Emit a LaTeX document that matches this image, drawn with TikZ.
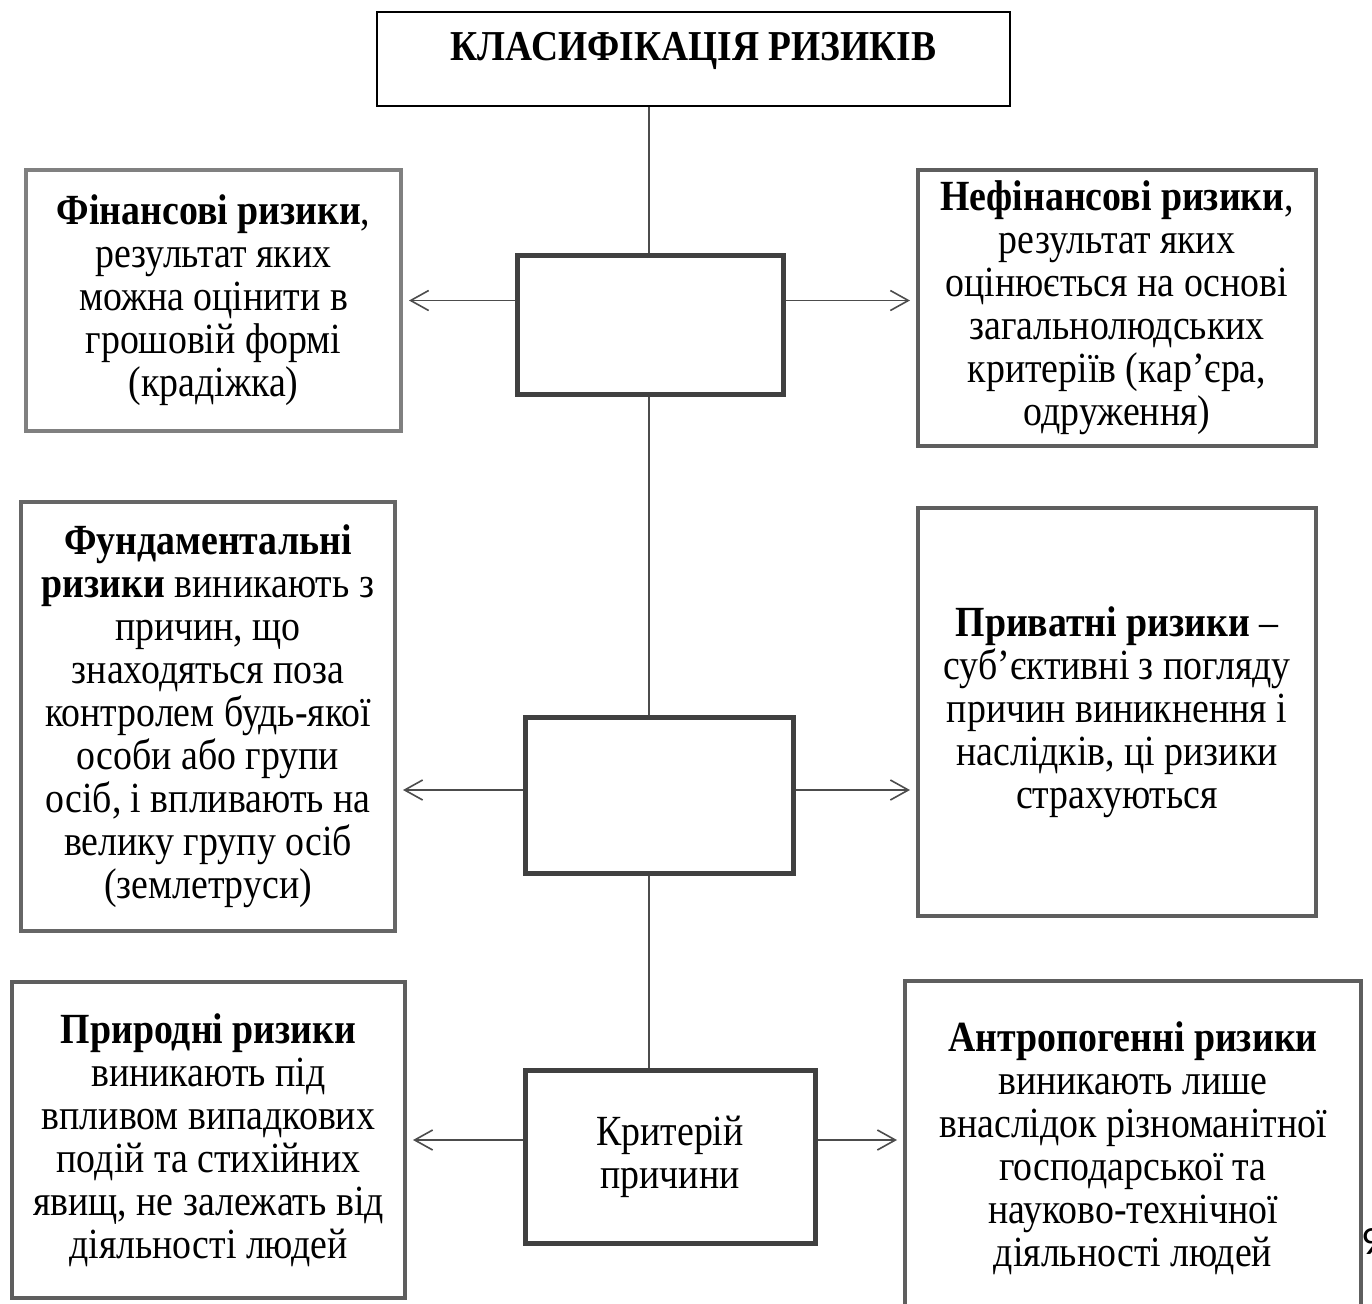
\documentclass[tikz,border=0pt]{standalone}
\usepackage{fontspec}
\setmainfont{Liberation Serif}[FakeStretch=0.88]
\newfontfamily\pagefont{Carlito}
\usepackage{tikz}
\usetikzlibrary{positioning}
\usetikzlibrary{arrows.meta}

\tikzset{
    riskbox/.style={draw=#1, line width=2pt, align=center, inner sep=0pt,
        font=\fontsize{21.5pt}{21.5pt}\selectfont},
    critbox/.style={riskbox=black!75, line width=2.5pt},
    conn/.style={draw=black!70, line width=0.8pt},
    arr/.style={conn, -{Straight Barb[length=9pt,width=10pt]}, shorten >=3pt},
}

\begin{document}
\begin{tikzpicture}[x=0.5pt, y=-0.5pt]
    \useasboundingbox (0,0) rectangle (1372,1303);
    \node[draw=black, line width=1pt, minimum width=316.5pt, minimum height=47pt,
        text height=14pt, text depth=13pt, font=\fontsize{21.3pt}{22pt}\selectfont\bfseries]
        (title) at (693.5,59) {КЛАСИФІКАЦІЯ РИЗИКІВ};
    \node[riskbox=black!50, minimum width=187.5pt, minimum height=130.5pt] (fin) at (213.5,300.5)
        {\textbf{Фінансові ризики},\\ результат яких\\ можна оцінити в\\ грошовій формі\\ (крадіжка)};
    \node[riskbox=black!63, minimum width=199pt, minimum height=138pt] (nefin) at (1117,308)
        {\textbf{Нефінансові ризики},\\ результат яких\\ оцінюється на основі\\ загальнолюдських\\ критеріїв (кар’єра,\\ одруження)};
    \node[critbox, minimum width=133pt, minimum height=69.5pt] (crit1) at (650,324.5) {};
    \node[riskbox=black!60, minimum width=187pt, minimum height=214.5pt] (fund) at (208,716.5)
        {\textbf{Фундаментальні}\\ \textbf{ризики} виникають з\\ причин, що\\ знаходяться поза\\ контролем будь-якої\\ особи або групи\\ осіб, і впливають на\\ велику групу осіб\\ (землетруси)};
    \node[riskbox=black!63, minimum width=199pt, minimum height=204pt] (priv) at (1117,712)
        {\textbf{Приватні ризики} –\\ суб’єктивні з погляду\\ причин виникнення і\\ наслідків, ці ризики\\ страхуються};
    \node[critbox, minimum width=134pt, minimum height=78pt] (crit2) at (659,795) {};
    \node[riskbox=black!63, minimum width=196.5pt, minimum height=158pt] (prirod) at (208.5,1140)
        {\textbf{Природні ризики}\\ виникають під\\ впливом випадкових\\ подій та стихійних\\ явищ, не залежать від\\ діяльності людей};
    \node[riskbox=black!63, minimum width=228pt, minimum height=167pt] (antrop) at (1133,1148)
        {\textbf{Антропогенні ризики}\\ виникають лише\\ внаслідок різноманітної\\ господарської та\\ науково-технічної\\ діяльності людей};
    \node[critbox, minimum width=145pt, minimum height=86.5pt] (crit3) at (670,1157) {Критерій\\ причини};
    \node[anchor=west, inner sep=0pt, font=\pagefont\fontsize{20pt}{22pt}\selectfont] (page) at (1361,1242) {9};

    \coordinate (axis) at (649,0);
    \draw[conn, line width=1pt] (title.south -| axis) -- (crit1.north -| axis);
    \draw[conn, line width=1pt] (crit1.south -| axis) -- (crit2.north -| axis);
    \draw[conn, line width=1pt] (crit2.south -| axis) -- (crit3.north -| axis);

    \draw[arr] (crit1.west |- fin.east) -- (fin.east);
    \draw[arr] (crit1.east |- fin.east) -- (fin.east -| nefin.west);
    \draw[arr] ([yshift=2.5pt]crit2.west) -- ([yshift=2.5pt]crit2.west -| fund.east);
    \draw[arr] ([yshift=2.5pt]crit2.east) -- ([yshift=2.5pt]crit2.east -| priv.west);
    \draw[arr] (crit3.west |- prirod.east) -- (prirod.east);
    \draw[arr] (crit3.east |- prirod.east) -- (prirod.east -| antrop.west);
\end{tikzpicture}
\end{document}
